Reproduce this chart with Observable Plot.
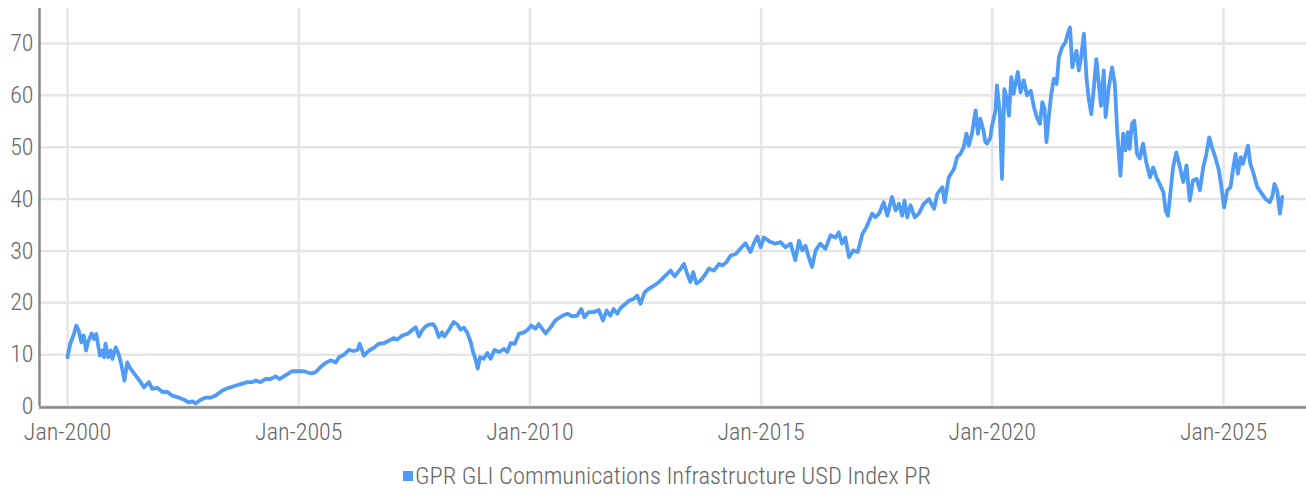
<!DOCTYPE html>
<html>
<head>
<meta charset="utf-8">
<script src="https://cdn.jsdelivr.net/npm/d3@7"></script>
<script src="https://cdn.jsdelivr.net/npm/@observablehq/plot@0.6"></script>
<style>
  html, body { margin: 0; padding: 0; background: #fff; }
  body { width: 1306px; height: 493px; overflow: hidden; font-family: "Liberation Sans Narrow", "Roboto Condensed", "DejaVu Sans Condensed", sans-serif; }
  #legend { display: flex; justify-content: center; align-items: center; margin-top: 12px; padding-left: 28px; color: #666; font-size: 24.5px; font-weight: 300; line-height: 1; }
  #legend .sw { width: 10px; height: 10px; background: #4F9BF5; margin-right: 2px; }
</style>
</head>
<body>
<div id="chart"></div>
<div id="legend"><span class="sw"></span><span id="legend-text"></span></div>
<script>
const seriesName = "GPR GLI Communications Infrastructure USD Index PR";
const yTicks = [0, 10, 20, 30, 40, 50, 60, 70];
const xTickYears = [2000, 2005, 2010, 2015, 2020, 2025];

// decimal year of each reading
const years = [
  2000.00, 2000.06, 2000.14, 2000.19, 2000.24, 2000.30, 2000.35, 2000.40, 2000.44, 2000.52,
  2000.57, 2000.62, 2000.70, 2000.75, 2000.79, 2000.82, 2000.88, 2000.93, 2000.97, 2001.04,
  2001.10, 2001.16, 2001.23, 2001.29, 2001.36, 2001.47, 2001.58, 2001.65, 2001.76, 2001.83,
  2001.94, 2002.05, 2002.16, 2002.26, 2002.41, 2002.52, 2002.62, 2002.70, 2002.77, 2002.88,
  2002.98, 2003.09, 2003.20, 2003.35, 2003.49, 2003.63, 2003.78, 2003.89, 2003.99, 2004.07,
  2004.17, 2004.28, 2004.39, 2004.50, 2004.58, 2004.71, 2004.86, 2005.00, 2005.11, 2005.26,
  2005.36, 2005.47, 2005.58, 2005.69, 2005.80, 2005.87, 2005.98, 2006.08, 2006.19, 2006.27,
  2006.32, 2006.41, 2006.52, 2006.62, 2006.73, 2006.84, 2006.95, 2007.06, 2007.13, 2007.24,
  2007.35, 2007.45, 2007.53, 2007.60, 2007.67, 2007.74, 2007.81, 2007.91, 2007.96, 2008.03,
  2008.10, 2008.15, 2008.25, 2008.35, 2008.43, 2008.50, 2008.57, 2008.64, 2008.72, 2008.77,
  2008.82, 2008.87, 2008.92, 2009.00, 2009.08, 2009.15, 2009.23, 2009.33, 2009.44, 2009.51,
  2009.58, 2009.67, 2009.76, 2009.87, 2009.95, 2010.03, 2010.12, 2010.19, 2010.34, 2010.45,
  2010.55, 2010.70, 2010.81, 2010.91, 2011.02, 2011.11, 2011.18, 2011.27, 2011.38, 2011.49,
  2011.58, 2011.66, 2011.74, 2011.81, 2011.89, 2011.96, 2012.07, 2012.14, 2012.25, 2012.32,
  2012.39, 2012.48, 2012.57, 2012.68, 2012.79, 2012.88, 2012.97, 2013.04, 2013.13, 2013.20,
  2013.26, 2013.33, 2013.40, 2013.47, 2013.53, 2013.60, 2013.69, 2013.78, 2013.87, 2013.98,
  2014.09, 2014.16, 2014.25, 2014.34, 2014.45, 2014.55, 2014.66, 2014.77, 2014.84, 2014.92,
  2014.99, 2015.06, 2015.19, 2015.31, 2015.42, 2015.53, 2015.64, 2015.74, 2015.82, 2015.89,
  2015.96, 2016.03, 2016.10, 2016.18, 2016.28, 2016.39, 2016.50, 2016.61, 2016.68, 2016.75,
  2016.82, 2016.90, 2016.99, 2017.09, 2017.19, 2017.28, 2017.40, 2017.47, 2017.55, 2017.65,
  2017.73, 2017.83, 2017.91, 2017.98, 2018.05, 2018.10, 2018.16, 2018.23, 2018.32, 2018.41,
  2018.52, 2018.63, 2018.74, 2018.81, 2018.92, 2018.97, 2019.06, 2019.17, 2019.24, 2019.31,
  2019.38, 2019.44, 2019.49, 2019.56, 2019.64, 2019.69, 2019.74, 2019.81, 2019.85, 2019.89,
  2019.96, 2019.99, 2020.07, 2020.10, 2020.16, 2020.21, 2020.26, 2020.31, 2020.36, 2020.41,
  2020.46, 2020.55, 2020.61, 2020.68, 2020.75, 2020.83, 2020.90, 2020.96, 2021.03, 2021.08,
  2021.13, 2021.17, 2021.22, 2021.27, 2021.33, 2021.39, 2021.44, 2021.51, 2021.58, 2021.63,
  2021.68, 2021.73, 2021.78, 2021.82, 2021.87, 2021.92, 2021.98, 2022.04, 2022.09, 2022.14,
  2022.19, 2022.25, 2022.31, 2022.35, 2022.41, 2022.45, 2022.52, 2022.59, 2022.65, 2022.70,
  2022.77, 2022.83, 2022.88, 2022.93, 2022.97, 2023.02, 2023.07, 2023.13, 2023.19, 2023.26,
  2023.33, 2023.41, 2023.48, 2023.55, 2023.62, 2023.70, 2023.75, 2023.80, 2023.85, 2023.91,
  2023.98, 2024.05, 2024.13, 2024.20, 2024.27, 2024.34, 2024.42, 2024.49, 2024.56, 2024.63,
  2024.69, 2024.75, 2024.83, 2024.90, 2024.95, 2025.01, 2025.08, 2025.15, 2025.21, 2025.26,
  2025.31, 2025.37, 2025.42, 2025.47, 2025.53, 2025.58, 2025.65, 2025.73, 2025.81, 2025.91,
  2026.00, 2026.06, 2026.10, 2026.16, 2026.22, 2026.27
];

// index level at each reading
const values = [
  9.5, 12.1, 14.0, 15.6, 14.7, 12.4, 13.7, 10.8, 12.4, 14.1,
  13.0, 14.0, 9.8, 10.8, 9.5, 12.1, 9.5, 10.8, 9.2, 11.4,
  10.2, 8.2, 5.0, 8.5, 7.3, 6.0, 4.7, 3.7, 4.7, 3.4,
  3.6, 2.8, 2.8, 2.1, 1.7, 1.3, 0.8, 1.0, 0.6, 1.3,
  1.7, 1.7, 2.1, 3.1, 3.6, 4.0, 4.4, 4.7, 4.7, 5.0,
  4.7, 5.3, 5.3, 5.8, 5.3, 6.0, 6.8, 6.8, 6.8, 6.4,
  6.6, 7.6, 8.4, 8.9, 8.5, 9.5, 10.0, 10.9, 10.7, 10.9,
  12.1, 9.8, 10.8, 11.3, 12.1, 12.2, 12.7, 13.2, 12.9, 13.7,
  14.0, 14.7, 15.3, 13.5, 14.7, 15.4, 15.8, 15.9, 15.2, 13.4,
  14.3, 13.5, 14.8, 16.3, 15.8, 14.8, 15.2, 14.3, 12.4, 10.5,
  9.2, 7.3, 9.5, 9.2, 10.3, 9.2, 10.9, 10.5, 11.1, 10.5,
  12.2, 12.1, 14.0, 14.3, 14.8, 15.6, 15.0, 15.9, 14.1, 15.3,
  16.6, 17.5, 17.9, 17.4, 17.5, 18.8, 17.2, 18.2, 18.2, 18.6,
  16.6, 18.5, 17.5, 18.8, 17.9, 19.0, 19.8, 20.4, 20.8, 21.4,
  19.8, 22.0, 22.7, 23.3, 24.0, 24.8, 25.6, 26.2, 25.1, 25.9,
  26.6, 27.5, 25.6, 24.0, 25.9, 23.7, 24.3, 25.3, 26.6, 26.2,
  27.5, 27.2, 27.8, 29.1, 29.4, 30.4, 31.5, 29.8, 31.4, 32.8,
  30.7, 32.6, 31.8, 31.4, 31.7, 30.7, 31.4, 28.2, 32.0, 30.1,
  31.0, 28.8, 26.9, 30.1, 31.4, 30.4, 33.0, 32.6, 33.6, 31.4,
  32.6, 28.8, 30.1, 29.8, 33.3, 34.6, 37.2, 36.5, 37.2, 39.4,
  36.8, 40.4, 37.8, 39.1, 36.8, 39.7, 36.5, 38.8, 36.5, 37.2,
  39.1, 40.0, 38.1, 41.0, 42.3, 39.4, 44.2, 45.8, 48.1, 48.7,
  50.0, 52.6, 50.3, 52.6, 57.1, 52.6, 55.5, 53.2, 51.0, 50.7,
  51.9, 53.9, 57.1, 61.9, 57.1, 43.9, 61.2, 59.6, 56.1, 63.5,
  60.3, 64.5, 60.6, 62.9, 60.0, 60.9, 57.7, 55.8, 54.5, 58.7,
  57.4, 51.0, 55.8, 60.0, 63.2, 62.2, 67.4, 69.3, 70.2, 71.9,
  73.1, 65.4, 67.4, 68.6, 64.8, 67.4, 71.9, 62.9, 59.0, 56.4,
  60.9, 67.0, 61.6, 58.0, 64.8, 55.8, 61.6, 65.4, 62.2, 53.2,
  44.5, 52.6, 49.4, 52.9, 49.7, 54.5, 55.1, 48.7, 47.8, 50.7,
  47.1, 44.2, 46.1, 44.2, 42.9, 41.3, 37.8, 36.8, 41.0, 46.1,
  49.0, 46.5, 43.3, 46.5, 39.7, 43.6, 43.9, 41.7, 46.1, 48.7,
  51.9, 50.0, 47.8, 45.5, 42.6, 38.4, 41.7, 42.3, 46.1, 48.7,
  44.9, 48.1, 46.8, 48.4, 50.3, 46.8, 44.9, 42.3, 41.3, 40.0,
  39.4, 40.7, 42.9, 41.7, 37.2, 40.4
];

function yearToDate(t) {
  const y = Math.floor(t);
  const a = Date.UTC(y, 0, 1), b = Date.UTC(y + 1, 0, 1);
  return new Date(a + (t - y) * (b - a));
}

const data = years.map((t, i) => ({date: yearToDate(t), value: values[i]}));
const xTicks = xTickYears.map(y => new Date(Date.UTC(y, 0, 1)));
const xStart = yearToDate(1999.394);
const xEnd = yearToDate(2026.795);
const fmt = d3.utcFormat("%b-%Y");

const chart = Plot.plot({
  width: 1306,
  height: 452,
  marginLeft: 39,
  marginRight: 0,
  marginTop: 8,
  marginBottom: 46,
  style: {fontFamily: '"Liberation Sans Narrow", "Roboto Condensed", "DejaVu Sans Condensed", sans-serif', fontSize: "24px", color: "#666", background: "#fff", overflow: "visible"},
  x: {type: "utc", domain: [xStart, xEnd]},
  y: {domain: [0, 76.75]},
  marks: [
    Plot.gridY(yTicks, {stroke: "#e5e5e5", strokeOpacity: 1, strokeWidth: 2.5}),
    Plot.gridX(xTicks, {stroke: "#e5e5e5", strokeOpacity: 1, strokeWidth: 2.5}),
    Plot.lineY(data, {x: "date", y: "value", stroke: "#4F9BF5", strokeWidth: 3.8, strokeLinejoin: "round", strokeLinecap: "round"}),
    Plot.ruleY([0], {stroke: "#888", strokeWidth: 2.5, dy: 1}),
    Plot.ruleX([xStart], {stroke: "#888", strokeWidth: 2.5}),
    Plot.axisY(yTicks, {tickSize: 0, tickPadding: 6, tickFormat: d => String(d), fill: "#666", fontSize: 24, fontWeight: 300, label: null}),
    Plot.axisX(xTicks, {tickSize: 0, tickPadding: 16, tickFormat: fmt, fill: "#666", fontSize: 24, fontWeight: 300, label: null})
  ]
});
document.getElementById("chart").appendChild(chart);
document.getElementById("legend-text").textContent = seriesName;
</script>
</body>
</html>
